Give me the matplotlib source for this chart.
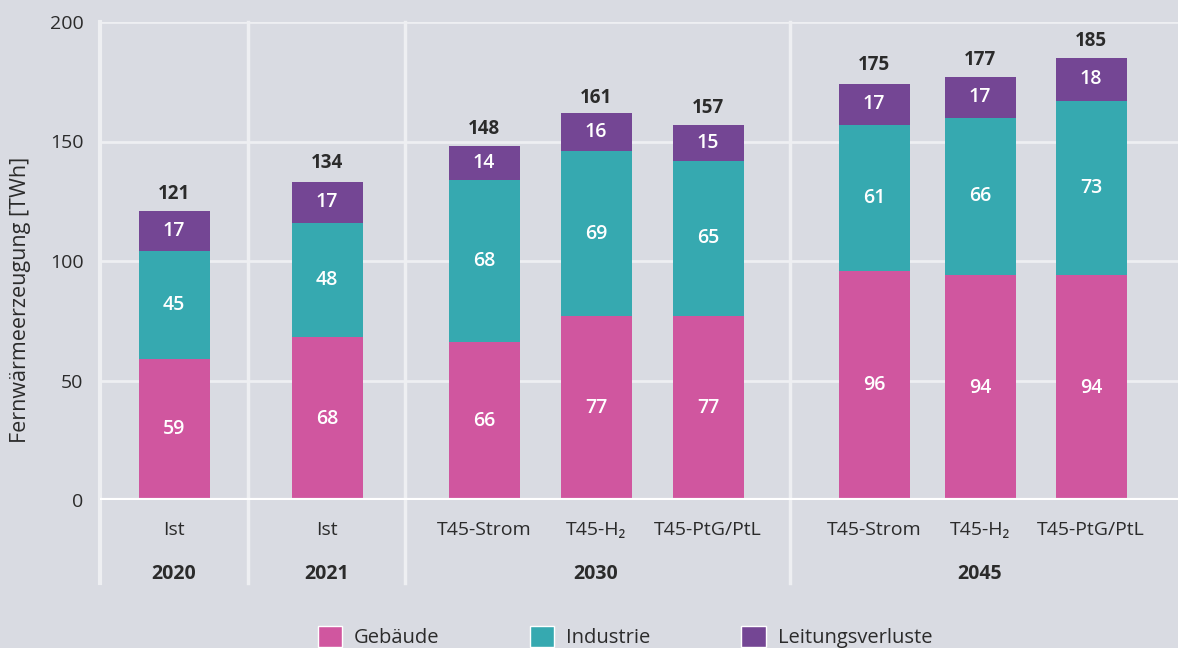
import matplotlib.pyplot as plt
import numpy as np
from matplotlib.patches import Patch

plt.rcParams["font.family"] = ["Open Sans", "DejaVu Sans"]

scenarios = ["Ist", "Ist", "T45-Strom", "T45-H₂", "T45-PtG/PtL", "T45-Strom", "T45-H₂", "T45-PtG/PtL"]
years = ["2020", "2021", "2030", "2045"]
gebaeude = [59, 68, 66, 77, 77, 96, 94, 94]
industrie = [45, 48, 68, 69, 65, 61, 66, 73]
leitung = [17, 17, 14, 16, 15, 17, 17, 18]
totals = [121, 134, 148, 161, 157, 175, 177, 185]

# layout (1 unit = 100 px)
xpos = np.array([0.74, 2.27, 3.84, 4.96, 6.08, 7.74, 8.80, 9.91])
year_x = [0.74, 2.27, 4.96, 8.80]
seps = [0.0, 1.48, 3.05, 6.90]
width = 0.71

c_geb = "#d0569f"
c_ind = "#36a9b0"
c_lei = "#744694"
bg = "#d9dbe2"
txt = "#2b2b2b"

fig = plt.figure(figsize=(11.78, 6.48), dpi=100, facecolor=bg)
ax = fig.add_axes([100 / 1178, 1 - 500 / 648, 1078 / 1178, 478 / 648])
ax.set_facecolor(bg)
ax.set_xlim(0, 10.78)
ax.set_ylim(0, 200)

for y in [50, 100, 150, 200]:
    ax.axhline(y, color="#eeeff2", lw=2, zorder=0.5)

g = np.array(gebaeude)
i = np.array(industrie)
l = np.array(leitung)
ax.bar(xpos, g, width, color=c_geb, zorder=2)
ax.bar(xpos, i, width, bottom=g, color=c_ind, zorder=2)
ax.bar(xpos, l, width, bottom=g + i, color=c_lei, zorder=2)

for k, x in enumerate(xpos):
    ax.text(x, g[k] / 2, str(gebaeude[k]), ha="center", va="center", color="white",
            fontsize=14, fontweight="semibold", zorder=3)
    ax.text(x, g[k] + i[k] / 2, str(industrie[k]), ha="center", va="center", color="white",
            fontsize=14, fontweight="semibold", zorder=3)
    ax.text(x, g[k] + i[k] + l[k] / 2, str(leitung[k]), ha="center", va="center", color="white",
            fontsize=14, fontweight="semibold", zorder=3)
    ax.text(x, totals[k] + 3, str(totals[k]), ha="center", va="bottom", color=txt,
            fontsize=13.5, fontweight="bold", zorder=3)

# separators and baseline
for s in seps:
    ax.plot([s, s], [200, -34.7], color="#eeeff2", lw=3 if s == 0 else 2.5, clip_on=False, zorder=1)
ax.axhline(0, color="white", lw=3, zorder=2.5)

for sp in ax.spines.values():
    sp.set_visible(False)

ax.set_xticks(xpos)
ax.set_xticklabels(scenarios, fontsize=14, color=txt)
ax.tick_params(axis="x", length=0, pad=15)
ax.set_yticks([0, 50, 100, 150, 200])
ax.tick_params(axis="y", length=0, labelsize=14, labelcolor=txt, pad=12)

for x, yr in zip(year_x, years):
    ax.text(x, -31, yr, ha="center", va="center", fontsize=14, fontweight="bold", color=txt)

ax.set_ylabel("Fernwärmeerzeugung [TWh]", fontsize=15.5, color=txt, va="center")
ax.yaxis.set_label_coords(-0.074, 0.418)

handles = [Patch(facecolor=c_geb, edgecolor="white", lw=1),
           Patch(facecolor=c_ind, edgecolor="white", lw=1),
           Patch(facecolor=c_lei, edgecolor="white", lw=1)]
fig.legend(handles, ["Gebäude", "Industrie", "Leitungsverluste"], loc="center",
           bbox_to_anchor=(625 / 1178, 1 - 637 / 648), ncol=3, frameon=False,
           fontsize=14.5, handlelength=1.2, handleheight=1.2, columnspacing=4.5,
           handletextpad=0.6, labelcolor=txt)

fig.savefig("out.png", dpi=100, facecolor=bg)
